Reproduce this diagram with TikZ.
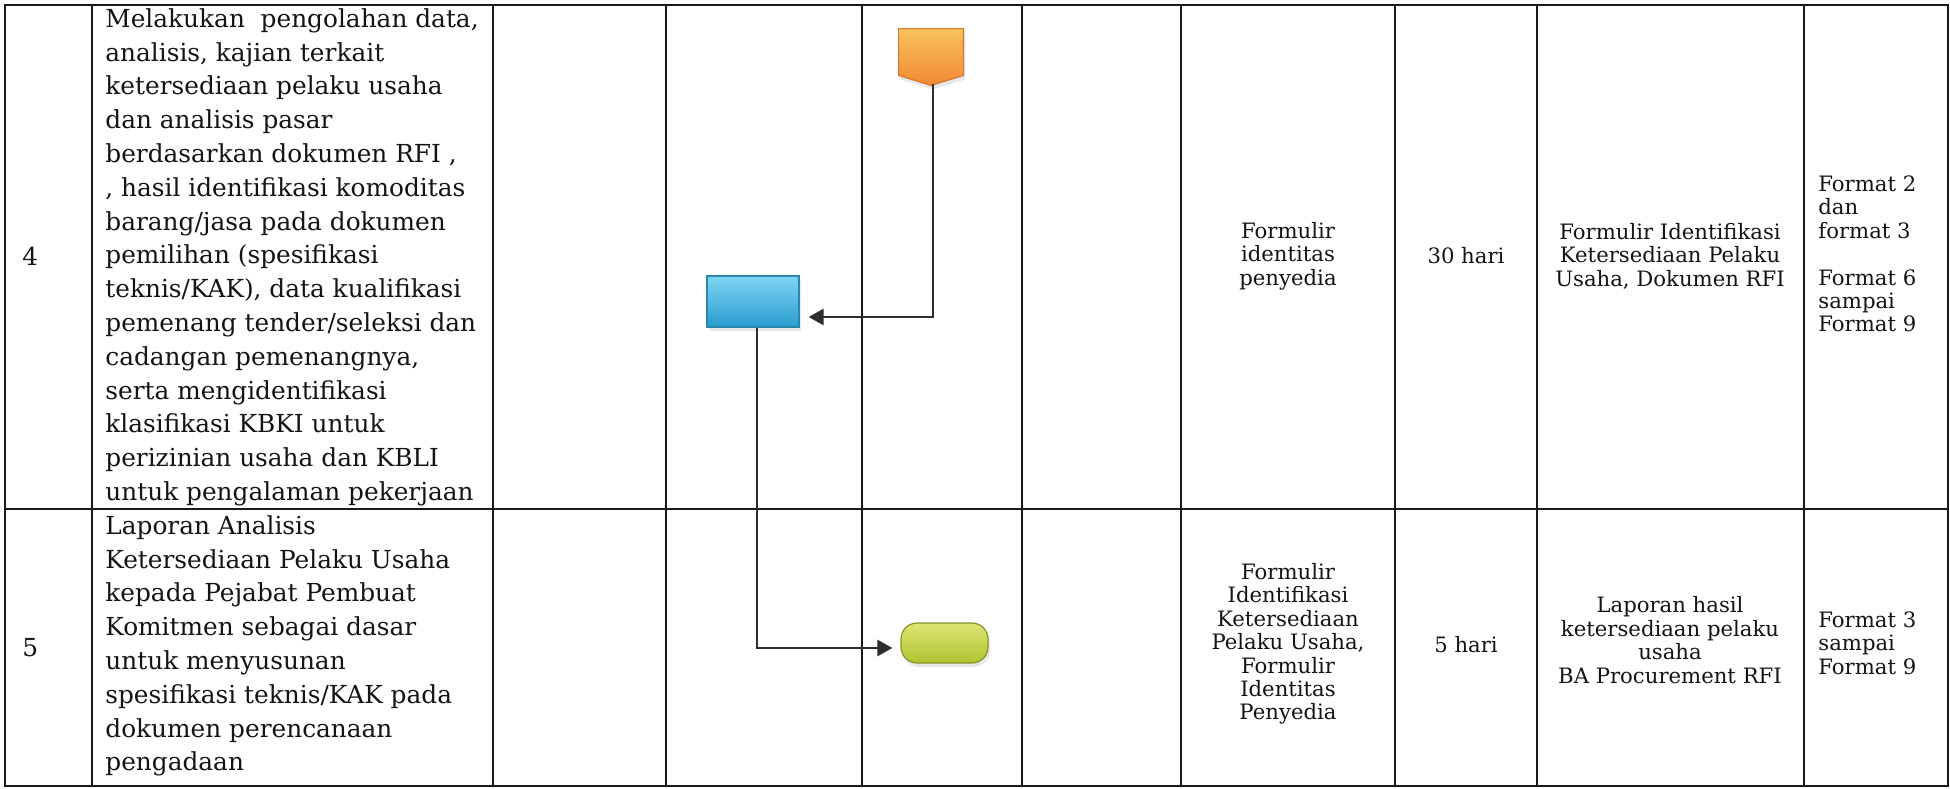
\documentclass[tikz,border=0pt]{standalone}
\usepackage{fontspec}
\setmainfont{DejaVu Serif}
\usetikzlibrary{arrows.meta,shadows,calc}
\definecolor{lineC}{HTML}{1A1A1A}
\definecolor{txtC}{HTML}{141414}
\definecolor{connC}{HTML}{2E2E2E}
\definecolor{orangeT}{HTML}{F9C25E}
\definecolor{orangeB}{HTML}{F28A33}
\definecolor{orangeD}{HTML}{D8772E}
\definecolor{blueT}{HTML}{7ED4F2}
\definecolor{blueB}{HTML}{2A9DCF}
\definecolor{blueD}{HTML}{2785AE}
\definecolor{greenT}{HTML}{DCE670}
\definecolor{greenB}{HTML}{AFC232}
\definecolor{greenD}{HTML}{86952A}
\begin{document}
\begin{tikzpicture}[x=0.5pt,y=-0.5pt,
  gridline/.style={draw=lineC, line width=1.1pt},
  desc/.style={anchor=north west, inner sep=0pt, align=left, text=txtC,
    font=\fontsize{12.4}{16.9}\selectfont},
  num/.style={anchor=west, inner sep=0pt, text=txtC, font=\fontsize{12.4}{16.9}\selectfont},
  cell/.style={inner sep=0pt, align=center, text=txtC, font=\fontsize{10.6}{11.7}\selectfont},
  cellL/.style={cell, anchor=west, align=left},
  conn/.style={draw=connC, line width=1.3pt, -{Triangle[length=7.5pt,width=8pt]}},
  shade/.style={drop shadow={opacity=0.18, shadow xshift=1pt, shadow yshift=-2pt}},
  offbody/.style={inner sep=0pt, minimum width=32pt, minimum height=23pt},
  offshape/.style={top color=orangeT, bottom color=orangeB, draw=orangeD, line width=0.6pt, shade},
  procbox/.style={rectangle, inner sep=0pt, minimum width=46pt, minimum height=25.5pt,
    top color=blueT, bottom color=blueB, draw=blueD, line width=0.6pt, shade},
  termbox/.style={rectangle, rounded corners=8pt, inner sep=0pt, minimum width=43.5pt,
    minimum height=20pt, top color=greenT, bottom color=greenB, draw=greenD, line width=0.6pt, shade}
]
\useasboundingbox (0,0) rectangle (1950,788);
\fill[white] (0,0) rectangle (1950,788);

% table
\draw[gridline] (5,5) rectangle (1948,786);
\draw[gridline] (5,509) -- (1948,509);
\foreach \xx in {92,493,666,862,1022,1181,1395,1537,1804}
  \draw[gridline] (\xx,5) -- (\xx,786);

% numbers
\node[num] (n4) at (22,256) {4};
\node[num] (n5) at (22,648) {5};

% descriptions
\node[desc] (d4) at (105,8) {Melakukan\ \ pengolahan data,\\
analisis, kajian terkait\\
ketersediaan pelaku usaha\\
dan analisis pasar\\
berdasarkan dokumen RFI ,\\
, hasil identifikasi komoditas\\
barang/jasa pada dokumen\\
pemilihan (spesifikasi\\
teknis/KAK), data kualifikasi\\
pemenang tender/seleksi dan\\
cadangan pemenangnya,\\
serta mengidentifikasi\\
klasifikasi KBKI untuk\\
perizinian usaha dan KBLI\\
untuk pengalaman pekerjaan};

\node[desc] (d5) at (105,515) {Laporan Analisis\\
Ketersediaan Pelaku Usaha\\
kepada Pejabat Pembuat\\
Komitmen sebagai dasar\\
untuk menyusunan\\
spesifikasi teknis/KAK pada\\
dokumen perencanaan\\
pengadaan};

% right columns, row 4
\node[cell] (in4) at (1288,256) {Formulir\\identitas\\penyedia};
\node[cell] (t4) at (1466,256) {30 hari};
\node[cell] (out4) at (1670,256) {Formulir Identifikasi\\Ketersediaan Pelaku\\Usaha, Dokumen RFI};
\node[cellL] (f4) at (1818,254) {Format 2\\dan\\format 3\\[11.7pt]Format 6\\sampai\\Format 9};

% right columns, row 5
\node[cell] (in5) at (1288,644) {Formulir\\Identifikasi\\Ketersediaan\\Pelaku Usaha,\\Formulir\\Identitas\\Penyedia};
\node[cell] (t5) at (1466,645) {5 hari};
\node[cell] (out5) at (1670,640) {Laporan hasil\\ketersediaan pelaku\\usaha\\BA Procurement RFI};
\node[cellL] (f5) at (1818,643) {Format 3\\sampai\\Format 9};

% flow shapes
\node[offbody] (off) at (931,52) {};
\path[offshape] (off.north west) -- (off.north east) -- (off.south east)
  -- ([yshift=-5pt]off.south) -- (off.south west) -- cycle;
\node[procbox] (blue) at (753,301.5) {};
\node[termbox] (term) at (944.5,643) {};

% connectors
\draw[conn] ([xshift=1pt,yshift=-4.5pt]off.south) |- ([xshift=4.5pt,yshift=-7.75pt]blue.east);
\draw[conn] ([xshift=2pt]blue.south) |- ([xshift=-4pt,yshift=-2.5pt]term.west);
\end{tikzpicture}
\end{document}
